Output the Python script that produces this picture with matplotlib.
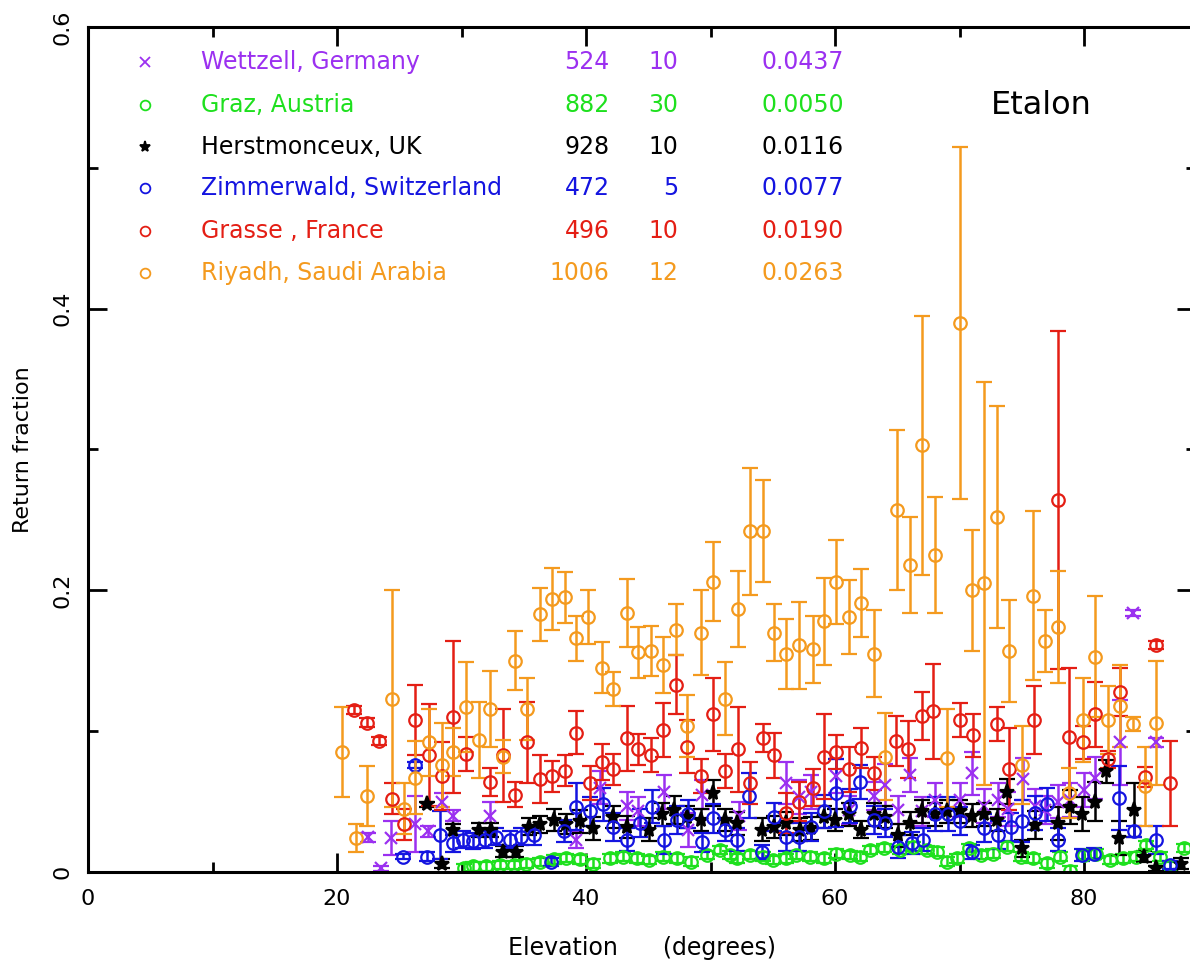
import matplotlib.pyplot as plt
import numpy as np

# Wettzell (purple)
wet_x = [22.5, 23.5, 24.3, 26.3, 27.3, 28.4, 29.3, 32.3, 39.2, 41.1, 43.3, 44.2, 46.3, 48.2,
         49.3, 52.3, 56.1, 57.1, 58.1, 60.1, 61.1, 63.1, 64.0, 65.1, 66.0, 67.0, 68.0, 70.0,
         71.0, 72.0, 73.1, 73.9, 75.1, 76.1, 76.9, 77.9, 78.9, 80.0, 80.9, 82.9, 83.9, 85.8]
wet_y = [0.0245, 0.0026, 0.024, 0.034, 0.029, 0.050, 0.040, 0.040, 0.023, 0.060, 0.047, 0.043,
         0.057, 0.030, 0.055, 0.040, 0.063, 0.053, 0.057, 0.068, 0.044, 0.054, 0.062, 0.044,
         0.069, 0.043, 0.051, 0.051, 0.070, 0.047, 0.051, 0.045, 0.066, 0.047, 0.044, 0.050,
         0.051, 0.058, 0.067, 0.092, 0.184, 0.092]
wet_e = [0.003, 0.002, 0.012, 0.020, 0.004, 0.006, 0.004, 0.010, 0.006, 0.012, 0.010, 0.010,
         0.012, 0.012, 0.010, 0.010, 0.015, 0.012, 0.012, 0.012, 0.010, 0.010, 0.015, 0.010,
         0.012, 0.010, 0.012, 0.012, 0.015, 0.012, 0.012, 0.012, 0.015, 0.012, 0.010, 0.012,
         0.012, 0.012, 0.015, 0.030, 0.002, 0.003]

# Graz (green)
graz_x = [30.2, 30.9, 32.0, 33.1, 34.2, 35.2, 36.3, 37.4, 38.4, 39.5, 40.6, 41.9, 43.0, 44.1,
          45.1, 46.2, 47.3, 48.4, 49.7, 50.8, 51.6, 52.1, 53.2, 54.2, 55.0, 56.1, 56.9, 58.0,
          59.1, 60.1, 61.2, 62.0, 62.8, 63.9, 65.2, 66.3, 67.4, 68.2, 69.0, 69.8, 70.8, 71.7,
          72.7, 73.8, 74.9, 75.9, 77.0, 78.1, 78.9, 80.0, 81.0, 82.1, 83.1, 84.2, 85.0, 86.1,
          86.9, 88.0]
graz_y = [0.003, 0.004, 0.004, 0.005, 0.005, 0.006, 0.007, 0.009, 0.010, 0.009, 0.006, 0.0097,
          0.011, 0.0097, 0.0085, 0.011, 0.0097, 0.0074, 0.0121, 0.0155, 0.0121, 0.0097, 0.0121,
          0.011, 0.0085, 0.0097, 0.0121, 0.011, 0.0097, 0.013, 0.0121, 0.011, 0.0155, 0.017,
          0.0155, 0.018, 0.0155, 0.0145, 0.0073, 0.0097, 0.017, 0.0121, 0.013, 0.018, 0.011,
          0.0097, 0.0061, 0.011, 0.001, 0.0121, 0.013, 0.0085, 0.0097, 0.011, 0.0192, 0.011,
          0.004, 0.017]
graz_e = [0.003] * len(graz_x)

# Herstmonceux (black)
her_x = [27.2, 28.4, 29.3, 31.4, 32.4, 33.3, 34.4, 35.4, 36.3, 37.4, 38.4, 39.5, 40.6, 42.2,
         43.3, 45.1, 46.1, 47.1, 48.1, 49.2, 50.2, 51.2, 52.1, 54.1, 55.1, 56.1, 57.2, 58.1,
         59.1, 60.0, 61.1, 62.1, 63.1, 64.0, 65.1, 66.0, 67.0, 68.0, 69.0, 70.0, 71.0, 72.0,
         73.0, 73.8, 75.0, 76.1, 77.9, 78.9, 79.8, 80.9, 81.8, 82.8, 84.0, 84.8, 85.8, 87.8]
her_y = [0.048, 0.006, 0.030, 0.030, 0.030, 0.0145, 0.0145, 0.032, 0.034, 0.037, 0.034, 0.036,
         0.031, 0.039, 0.032, 0.030, 0.041, 0.044, 0.039, 0.037, 0.056, 0.037, 0.0345, 0.030,
         0.032, 0.0345, 0.030, 0.031, 0.039, 0.037, 0.041, 0.030, 0.041, 0.039, 0.026, 0.0345,
         0.043, 0.041, 0.043, 0.043, 0.040, 0.041, 0.037, 0.057, 0.017, 0.0335, 0.0345, 0.046,
         0.041, 0.050, 0.0715, 0.024, 0.044, 0.011, 0.0026, 0.006]
her_e = [0.002, 0.003, 0.004, 0.005, 0.005, 0.004, 0.004, 0.006, 0.006, 0.008, 0.007, 0.008,
         0.008, 0.008, 0.008, 0.008, 0.008, 0.010, 0.008, 0.008, 0.009, 0.008, 0.008, 0.008,
         0.008, 0.008, 0.008, 0.008, 0.008, 0.008, 0.008, 0.006, 0.008, 0.008, 0.008, 0.008,
         0.008, 0.008, 0.008, 0.008, 0.008, 0.008, 0.008, 0.009, 0.006, 0.010, 0.012, 0.012,
         0.012, 0.014, 0.008, 0.012, 0.019, 0.004, 0.002, 0.004]

# Zimmerwald (blue)
zim_x = [25.3, 26.3, 27.2, 28.3, 29.3, 30.1, 30.9, 31.9, 32.8, 33.9, 34.8, 35.8, 37.2, 38.2,
         39.2, 40.3, 41.4, 42.2, 43.3, 44.3, 45.3, 46.3, 47.3, 48.2, 49.3, 50.2, 51.2, 52.1,
         53.1, 54.1, 55.1, 56.1, 57.1, 58.1, 59.1, 60.1, 61.2, 62.0, 63.1, 64.0, 65.1, 66.2,
         67.1, 68.0, 69.1, 70.0, 71.0, 72.0, 73.1, 74.1, 75.0, 76.1, 77.0, 77.9, 79.8, 80.8,
         82.8, 84.0, 85.8, 86.9]
zim_y = [0.011, 0.076, 0.011, 0.026, 0.0205, 0.023, 0.022, 0.023, 0.025, 0.023, 0.025, 0.026,
         0.007, 0.029, 0.0465, 0.043, 0.048, 0.032, 0.023, 0.0347, 0.0465, 0.023, 0.037, 0.041,
         0.021, 0.038, 0.030, 0.023, 0.054, 0.0145, 0.039, 0.025, 0.025, 0.032, 0.043, 0.056,
         0.047, 0.064, 0.037, 0.035, 0.018, 0.0205, 0.023, 0.041, 0.041, 0.036, 0.0145, 0.031,
         0.026, 0.032, 0.036, 0.042, 0.048, 0.023, 0.012, 0.013, 0.0525, 0.029, 0.023, 0.005]
zim_e = [0.002, 0.002, 0.003, 0.017, 0.006, 0.006, 0.006, 0.006, 0.006, 0.006, 0.006, 0.007,
         0.003, 0.008, 0.017, 0.010, 0.012, 0.010, 0.008, 0.010, 0.012, 0.010, 0.010, 0.010,
         0.007, 0.010, 0.008, 0.008, 0.016, 0.005, 0.010, 0.010, 0.010, 0.010, 0.012, 0.024,
         0.012, 0.012, 0.010, 0.010, 0.008, 0.008, 0.008, 0.012, 0.012, 0.010, 0.005, 0.010,
         0.010, 0.010, 0.015, 0.012, 0.012, 0.008, 0.004, 0.004, 0.023, 0.004, 0.010, 0.003]

# Grasse (red)
gra_x = [21.4, 22.4, 23.4, 24.4, 25.4, 26.3, 27.4, 28.4, 29.3, 30.4, 32.3, 33.3, 34.3, 35.3,
         36.3, 37.3, 38.3, 39.2, 40.3, 41.3, 42.2, 43.3, 44.2, 45.2, 46.2, 47.2, 48.1, 49.2,
         50.2, 51.2, 52.2, 53.2, 54.2, 55.1, 56.1, 57.1, 58.2, 59.1, 60.1, 61.1, 62.1, 63.1,
         64.9, 65.9, 67.0, 67.9, 70.0, 71.1, 73.0, 74.0, 76.0, 77.9, 78.8, 79.9, 80.9, 81.9,
         82.9, 84.9, 85.8, 86.9]
gra_y = [0.115, 0.106, 0.093, 0.052, 0.034, 0.108, 0.083, 0.068, 0.110, 0.084, 0.064, 0.083,
         0.055, 0.092, 0.066, 0.068, 0.072, 0.099, 0.063, 0.078, 0.073, 0.095, 0.087, 0.083,
         0.101, 0.133, 0.089, 0.068, 0.112, 0.072, 0.087, 0.063, 0.095, 0.083, 0.042, 0.050,
         0.060, 0.082, 0.085, 0.073, 0.088, 0.070, 0.093, 0.087, 0.111, 0.114, 0.108, 0.097,
         0.105, 0.073, 0.108, 0.264, 0.096, 0.092, 0.112, 0.080, 0.128, 0.0675, 0.161, 0.063]
gra_e = [0.003, 0.003, 0.003, 0.011, 0.011, 0.025, 0.036, 0.024, 0.054, 0.012, 0.010, 0.033,
         0.009, 0.029, 0.017, 0.011, 0.011, 0.015, 0.012, 0.013, 0.011, 0.023, 0.011, 0.012,
         0.019, 0.021, 0.019, 0.012, 0.026, 0.012, 0.030, 0.015, 0.010, 0.016, 0.014, 0.014,
         0.013, 0.030, 0.012, 0.016, 0.014, 0.012, 0.018, 0.020, 0.017, 0.034, 0.012, 0.015,
         0.012, 0.029, 0.024, 0.120, 0.049, 0.012, 0.023, 0.006, 0.017, 0.007, 0.003, 0.030]

# Riyadh (orange)
riy_x = [20.4, 21.5, 22.4, 24.4, 25.4, 26.3, 27.4, 28.4, 29.3, 30.4, 31.4, 32.3, 33.3, 34.3,
         35.3, 36.3, 37.3, 38.3, 39.2, 40.2, 41.3, 42.2, 43.3, 44.2, 45.2, 46.2, 47.2, 48.1,
         49.2, 50.2, 51.2, 52.2, 53.2, 54.2, 55.1, 56.1, 57.1, 58.2, 59.1, 60.1, 61.1, 62.1,
         63.1, 64.0, 65.0, 66.0, 67.0, 68.0, 69.0, 70.0, 71.0, 72.0, 73.0, 74.0, 75.0, 75.9,
         76.9, 77.9, 78.8, 79.9, 80.9, 81.9, 82.9, 83.9, 84.9, 85.8]
riy_y = [0.085, 0.024, 0.054, 0.123, 0.045, 0.067, 0.092, 0.076, 0.085, 0.117, 0.094, 0.116,
         0.082, 0.150, 0.116, 0.183, 0.194, 0.195, 0.166, 0.181, 0.145, 0.130, 0.184, 0.156,
         0.157, 0.147, 0.172, 0.104, 0.170, 0.206, 0.123, 0.187, 0.242, 0.242, 0.170, 0.155,
         0.161, 0.158, 0.178, 0.206, 0.181, 0.191, 0.155, 0.082, 0.257, 0.218, 0.303, 0.225,
         0.081, 0.390, 0.200, 0.205, 0.252, 0.157, 0.076, 0.196, 0.164, 0.174, 0.056, 0.108,
         0.153, 0.108, 0.118, 0.105, 0.061, 0.106]
riy_e = [0.032, 0.010, 0.021, 0.077, 0.018, 0.026, 0.024, 0.030, 0.017, 0.032, 0.027, 0.027,
         0.012, 0.021, 0.022, 0.019, 0.022, 0.018, 0.016, 0.019, 0.018, 0.012, 0.024, 0.018,
         0.018, 0.020, 0.018, 0.022, 0.030, 0.028, 0.026, 0.027, 0.045, 0.036, 0.020, 0.025,
         0.031, 0.024, 0.031, 0.030, 0.026, 0.024, 0.031, 0.031, 0.057, 0.034, 0.092, 0.041,
         0.035, 0.125, 0.043, 0.143, 0.079, 0.036, 0.028, 0.060, 0.022, 0.040, 0.018, 0.030,
         0.043, 0.024, 0.029, 0.005, 0.028, 0.044]

stations = ["Wettzell, Germany", "Graz, Austria", "Herstmonceux, UK",
            "Zimmerwald, Switzerland", "Grasse , France", "Riyadh, Saudi Arabia"]
n_pts = ["524", "882", "928", "472", "496", "1006"]
n_min = ["10", "30", "10", "5", "10", "12"]
fracs = ["0.0437", "0.0050", "0.0116", "0.0077", "0.0190", "0.0263"]

colors = ["#9b30f0", "#1ee01e", "#000000", "#1414e0", "#e41e14", "#f49a1e"]
markers = ["x", "o", "*", "o", "o", "o"]
series = [(wet_x, wet_y, wet_e), (graz_x, graz_y, graz_e), (her_x, her_y, her_e),
          (zim_x, zim_y, zim_e), (gra_x, gra_y, gra_e), (riy_x, riy_y, riy_e)]

plt.rcParams['font.family'] = 'DejaVu Sans'

fig = plt.figure(figsize=(11.9, 9.64), dpi=100)
# x=0 at 88 px, 12.45 px per degree; right frame falls just outside the picture
ax = fig.add_axes([88 / 1190, 92 / 964, 89 * 12.45 / 1190, 845 / 964])

for (x, y, e), c, m in zip(series, colors, markers):
    filled = m == "*"
    ax.errorbar(x, y, yerr=e, fmt=m, color=c, ecolor=c,
                mfc=c if filled else 'none', mec=c,
                ms=11 if filled else 9, mew=1.6,
                elinewidth=1.8, capsize=6, capthick=1.8)

# legend written as text rows
row_y = [0.575, 0.5445, 0.5146, 0.4854, 0.4555, 0.425]
for i in range(6):
    c = colors[i]
    ms = 7 if markers[i] != "*" else 8
    ax.plot(4.6, row_y[i], markers[i], color=c, mfc=c if markers[i] == "*" else 'none',
            ms=ms, mew=1.3, clip_on=False)
    ax.text(9.1, row_y[i], stations[i], color=c, fontsize=17, va='center', ha='left')
    ax.text(41.9, row_y[i], n_pts[i], color=c, fontsize=17, va='center', ha='right')
    ax.text(47.4, row_y[i], n_min[i], color=c, fontsize=17, va='center', ha='right')
    ax.text(57.4, row_y[i], fracs[i], color=c, fontsize=17, va='center', ha='center')

ax.text(76.6, 0.5445, "Etalon", fontsize=23, ha='center', va='center')

ax.set_xlim(0, 89)
ax.set_ylim(0, 0.6)
ax.set_xticks([0, 20, 40, 60, 80])
ax.set_xticklabels(["0", "20", "40", "60", "80"])
ax.set_xticks(np.arange(10, 90, 20), minor=True)
ax.set_yticks([0, 0.2, 0.4, 0.6])
ax.set_yticklabels(["0", "0.2", "0.4", "0.6"])
ax.set_yticks([0.1, 0.3, 0.5], minor=True)

ax.tick_params(which='major', direction='in', length=14, width=2, top=True, right=True,
               labelsize=16)
ax.tick_params(which='minor', direction='in', length=7, width=2, top=True, right=True)
ax.tick_params(axis='x', pad=12)
ax.tick_params(axis='y', pad=11)
plt.setp(ax.get_yticklabels(), rotation=90, va='center')
for s in ax.spines.values():
    s.set_linewidth(2.2)

ax.set_xlabel("Elevation      (degrees)", fontsize=17, labelpad=20)
ax.set_ylabel("Return fraction", fontsize=16, labelpad=14)

fig.savefig("out.png", dpi=100)
